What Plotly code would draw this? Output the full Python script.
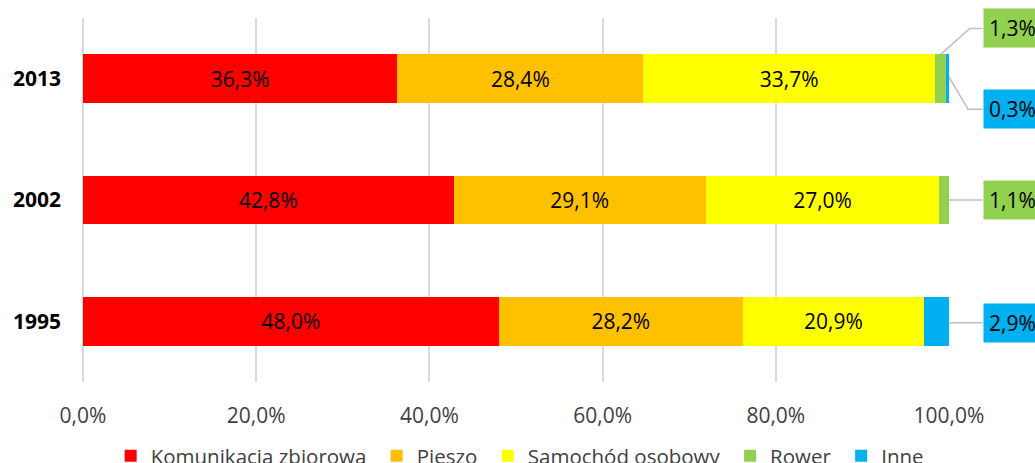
import plotly.graph_objects as go

years = ["1995", "2002", "2013"]
series_names = ["Komunikacja zbiorowa", "Pieszo", "Samochód osobowy", "Rower", "Inne"]
komunikacja = [48.0, 42.8, 36.3]
pieszo = [28.2, 29.1, 28.4]
samochod = [20.9, 27.0, 33.7]
rower = [0.0, 1.1, 1.3]
inne = [2.9, 0.0, 0.3]
colors = ["#FF0000", "#FFC000", "#FFFF00", "#92D050", "#00B0F0"]
tick_vals = [0, 20, 40, 60, 80, 100]

FONT = "Open Sans"
series = [komunikacja, pieszo, samochod, rower, inne]


def fmt(v):
    return f"{v:.1f}".replace(".", ",") + "%"


fig = go.Figure()
ypos = list(range(len(years)))
for name, vals, col in zip(series_names, series, colors):
    inside = name not in ("Rower", "Inne")
    fig.add_trace(go.Bar(
        y=ypos, x=vals, name=name + "\u00a0", orientation="h",
        marker=dict(color=col, line=dict(width=0)),
        text=[fmt(v) for v in vals] if inside else None,
        textposition="inside", insidetextanchor="middle",
        textfont=dict(family=FONT, size=21, color="#000000"),
        hoverinfo="skip",
    ))

# callout labels for small segments
n = len(years)
def ycenter(i):
    return (i + 0.5) / n

half_bar = 0.2 / n
box_x = 1.039
callouts = []
i13 = years.index("2013")
cum13 = komunikacja[i13] + pieszo[i13] + samochod[i13]
callouts.append(dict(text=fmt(rower[i13]), color=colors[3],
                     start=((cum13 + rower[i13] / 2) / 100, ycenter(i13) + half_bar),
                     elbow=(1.024, ycenter(i13) + 0.138)))
callouts.append(dict(text=fmt(inne[i13]), color=colors[4],
                     start=((cum13 + rower[i13] + inne[i13]) / 100, ycenter(i13) + 0.005),
                     elbow=(1.022, ycenter(i13) - 0.084)))
i02 = years.index("2002")
end02 = (komunikacja[i02] + pieszo[i02] + samochod[i02] + rower[i02]) / 100
callouts.append(dict(text=fmt(rower[i02]), color=colors[3],
                     start=(end02, ycenter(i02)), elbow=None))
i95 = years.index("1995")
end95 = (komunikacja[i95] + pieszo[i95] + samochod[i95] + rower[i95] + inne[i95]) / 100
callouts.append(dict(text=fmt(inne[i95]), color=colors[4],
                     start=(end95, ycenter(i95) - 0.004), elbow=None))

for c in callouts:
    sx, sy = c["start"]
    if c["elbow"] is not None:
        ex, ey = c["elbow"]
        path = f"M {sx},{sy} L {ex},{ey} L {box_x},{ey}"
        by = ey
    else:
        path = f"M {sx},{sy} L {box_x},{sy}"
        by = sy
    fig.add_shape(type="path", path=path, xref="paper", yref="paper",
                  line=dict(color="#BFBFBF", width=1.5), layer="below")
    fig.add_annotation(x=box_x, y=by, xref="paper", yref="paper",
                       xanchor="left", yanchor="middle", showarrow=False,
                       text=c["text"], bgcolor=c["color"], borderpad=5,
                       width=70, align="left",
                       font=dict(family=FONT, size=21, color="#000000"))

fig.update_layout(
    width=1035, height=463,
    barmode="stack", bargap=0.6,
    separators=", ",
    plot_bgcolor="white", paper_bgcolor="white",
    margin=dict(l=83, r=86, t=18, b=81, autoexpand=False),
    font=dict(family=FONT, size=21, color="#404040"),
    showlegend=True,
    legend=dict(orientation="h", x=0.505, xanchor="center", xref="container",
                y=-0.148, yanchor="top",
                font=dict(family=FONT, size=20.5, color="#404040"),
                traceorder="normal", itemclick=False),
    xaxis=dict(range=[0, 100], tickvals=tick_vals,
               ticktext=[fmt(v) for v in tick_vals],
               showgrid=True, gridcolor="#D9D9D9", gridwidth=1.5,
               zeroline=True, zerolinecolor="#D9D9D9", zerolinewidth=1.5,
               showline=False, ticks="", ticklabelstandoff=19,
               tickfont=dict(family=FONT, size=21, color="#404040")),
    yaxis=dict(range=[-0.5, 2.5], tickvals=ypos, ticktext=years,
               showgrid=False, zeroline=False, showline=False, ticks="",
               ticklabelstandoff=21,
               tickfont=dict(family=FONT, size=21, color="#000000", weight="bold")),
)

fig.write_html("out.html", config={"displayModeBar": False},
               post_script="document.body.style.margin='0';document.body.style.overflow='hidden';")
